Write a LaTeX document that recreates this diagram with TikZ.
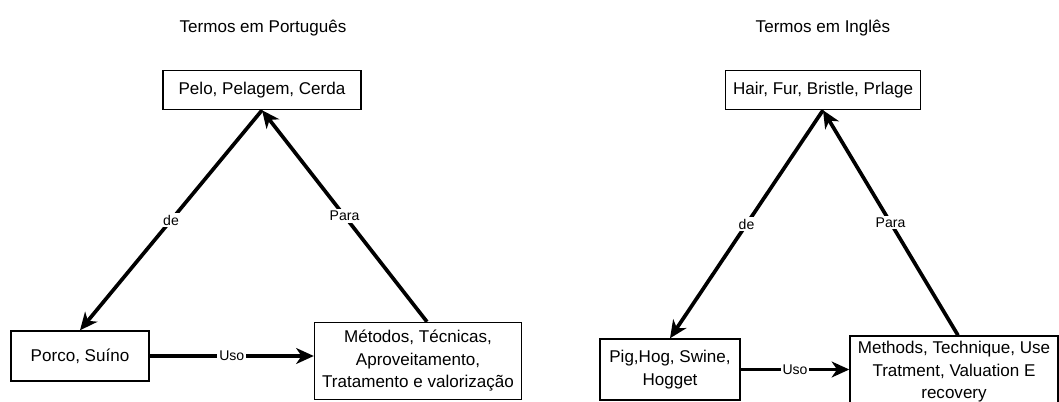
\documentclass[tikz,border=0pt]{standalone}
\usepackage{fontspec}
\setmainfont{Liberation Sans}
\usetikzlibrary{arrows.meta}

\tikzset{
  box/.style={draw, line width=0.8pt, align=center, inner sep=2pt,
    font=\fontsize{9.7}{12.8}\selectfont},
  link/.style={line width=2.1pt, -{Stealth[length=10pt,width=9pt,inset=3pt]}},
  rel/.style={fill=white, inner sep=1pt, font=\fontsize{8}{9.6}\selectfont},
  title/.style={font=\fontsize{9.7}{12}\selectfont}
}

\begin{document}
\begin{tikzpicture}
\useasboundingbox (0,0) rectangle (21.18,8.02);

% Portuguese terms
\node[title] (tpt) at (5.26,7.46) {Termos em Português};
\node[box, minimum width=3.96cm, minimum height=0.78cm] (pelo) at (5.24,6.22) {Pelo, Pelagem, Cerda};
\node[box, minimum width=2.76cm, minimum height=1.0cm] (porco) at (1.60,0.90) {Porco, Suíno};
\node[box, minimum width=4.14cm, minimum height=1.54cm] (metodos) at (8.36,0.80)
  {Métodos, Técnicas,\\Aproveitamento,\\Tratamento e valorização};

\draw[link] (pelo.south) -- node[rel] {de} (porco.north);
\draw[link] ([xshift=0.18cm]metodos.north) -- node[rel] {Para} (pelo.south);
\draw[link] (porco.east) -- node[rel] {Uso} (porco.east -| metodos.west);

% English terms
\node[title] (ten) at (16.46,7.46) {Termos em Inglês};
\node[box, minimum width=3.9cm, minimum height=0.78cm] (hair) at (16.46,6.22) {Hair, Fur, Bristle, Prlage};
\node[box, minimum width=2.8cm, minimum height=1.22cm] (pig) at (13.40,0.63) {Pig,Hog, Swine,\\Hogget};
\node[box, minimum width=4.16cm, minimum height=1.44cm] (methods) at (19.08,0.58)
  {Methods, Technique, Use\\Tratment, Valuation E\\recovery};

\draw[link] (hair.south) -- node[rel] {de} (pig.north);
\draw[link] ([xshift=0.08cm]methods.north) -- node[rel] {Para} (hair.south);
\draw[link] (pig.east) -- node[rel] {Uso} (pig.east -| methods.west);
\end{tikzpicture}
\end{document}
